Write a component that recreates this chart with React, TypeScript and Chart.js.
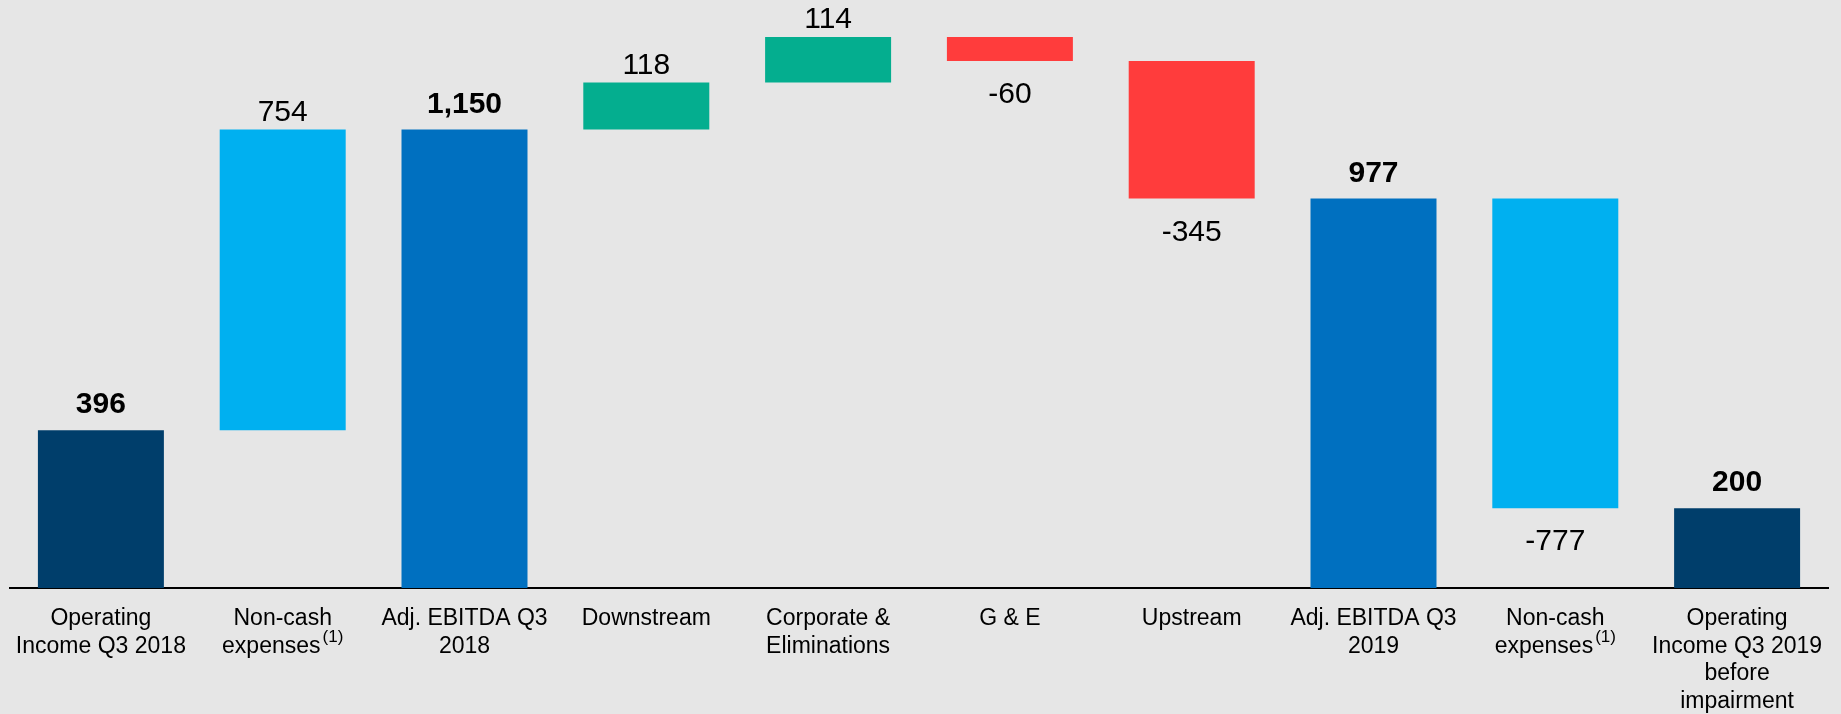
import React, { useEffect, useRef } from 'react';
import { Chart, registerables } from 'chart.js';

Chart.register(...registerables);

// Each line of a category label; a "^" marks a superscript tail.
const categories: string[][] = [
  ['Operating', 'Income Q3 2018'],
  ['Non-cash', 'expenses^(1)'],
  ['Adj. EBITDA Q3', '2018'],
  ['Downstream'],
  ['Corporate &', 'Eliminations'],
  ['G & E'],
  ['Upstream'],
  ['Adj. EBITDA Q3', '2019'],
  ['Non-cash', 'expenses^(1)'],
  ['Operating', 'Income Q3 2019', 'before', 'impairment'],
];

const values = [396, 754, 1150, 118, 114, -60, -345, 977, -777, 200];
const isTotal = [true, false, true, false, false, false, false, true, false, true];
const valueLabels = ['396', '754', '1,150', '118', '114', '-60', '-345', '977', '-777', '200'];

const NAVY = '#003E6B';
const BLUE = '#0070C0';
const LIGHT = '#00B0F0';
const GREEN = '#04AE8F';
const RED = '#FF3C3C';
const barColors = [NAVY, LIGHT, BLUE, GREEN, GREEN, RED, RED, BLUE, LIGHT, NAVY];

const FONT = '"Liberation Sans", Arial, Helvetica, sans-serif';

function buildRanges(): [number, number][] {
  const out: [number, number][] = [];
  let running = 0;
  values.forEach((v, i) => {
    if (isTotal[i]) {
      out.push([0, v]);
      running = v;
    } else {
      out.push([running, running + v]);
      running += v;
    }
  });
  return out;
}

const valueLabelPlugin = {
  id: 'valueLabels',
  afterDatasetsDraw(chart: any) {
    const ctx = chart.ctx;
    const meta = chart.getDatasetMeta(0);
    ctx.save();
    ctx.fillStyle = '#000';
    ctx.textAlign = 'center';
    ctx.textBaseline = 'alphabetic';
    meta.data.forEach((bar: any, i: number) => {
      const top = Math.min(bar.y, bar.base);
      const bottom = Math.max(bar.y, bar.base);
      ctx.font = `${isTotal[i] ? 'bold ' : ''}30px ${FONT}`;
      if (values[i] >= 0) {
        const gap = isTotal[i] ? 17 : 9;
        ctx.fillText(valueLabels[i], bar.x, top - gap);
      } else {
        ctx.fillText(valueLabels[i], bar.x, bottom + 42);
      }
    });
    ctx.restore();
  },
};

const categoryLabelPlugin = {
  id: 'categoryLabels',
  afterDraw(chart: any) {
    const ctx = chart.ctx;
    const xs = chart.scales.x;
    const base = chart.chartArea.bottom;
    const mainFont = `23px ${FONT}`;
    const supFont = `17px ${FONT}`;
    ctx.save();
    ctx.fillStyle = '#000';
    ctx.textBaseline = 'alphabetic';
    ctx.textAlign = 'left';
    categories.forEach((lines, i) => {
      const cx = xs.getPixelForValue(i);
      lines.forEach((line, k) => {
        const y = base + 37 + k * 27.5;
        const [main, sup] = line.split('^');
        ctx.font = mainFont;
        const wMain = ctx.measureText(main).width;
        let wSup = 0;
        if (sup) {
          ctx.font = supFont;
          wSup = ctx.measureText(sup).width + 2;
        }
        const x0 = cx - (wMain + wSup) / 2;
        ctx.font = mainFont;
        ctx.fillText(main, x0, y);
        if (sup) {
          ctx.font = supFont;
          ctx.fillText(sup, x0 + wMain + 2, y - 11);
        }
      });
    });
    ctx.restore();
  },
};

export default function App() {
  const ref = useRef<HTMLCanvasElement | null>(null);

  useEffect(() => {
    if (!ref.current) return;
    const chart = new Chart(ref.current, {
      type: 'bar',
      data: {
        labels: categories.map((l) => l.join(' ')),
        datasets: [
          {
            data: buildRanges() as any,
            backgroundColor: barColors,
            borderWidth: 0,
            barPercentage: 0.693,
            categoryPercentage: 1,
          },
        ],
      },
      options: {
        animation: false,
        responsive: false,
        maintainAspectRatio: false,
        layout: { padding: { left: 10, right: 13, top: 10, bottom: 0 } },
        plugins: {
          legend: { display: false },
          tooltip: { enabled: false },
          title: { display: false },
        },
        scales: {
          x: {
            grid: { display: false, drawTicks: false },
            border: { display: true, color: '#000', width: 2 },
            ticks: { display: false },
            afterFit(scale: any) {
              scale.height = 126;
            },
          },
          y: {
            display: false,
            min: 0,
            max: 1450,
          },
        },
      },
      plugins: [valueLabelPlugin, categoryLabelPlugin],
    });
    return () => chart.destroy();
  }, []);

  return (
    <div
      style={{
        position: 'fixed',
        left: 0,
        top: 0,
        width: 1841,
        height: 714,
        background: '#E6E6E6',
      }}
    >
      <canvas ref={ref} width={1841} height={714} style={{ display: 'block' }} />
    </div>
  );
}
